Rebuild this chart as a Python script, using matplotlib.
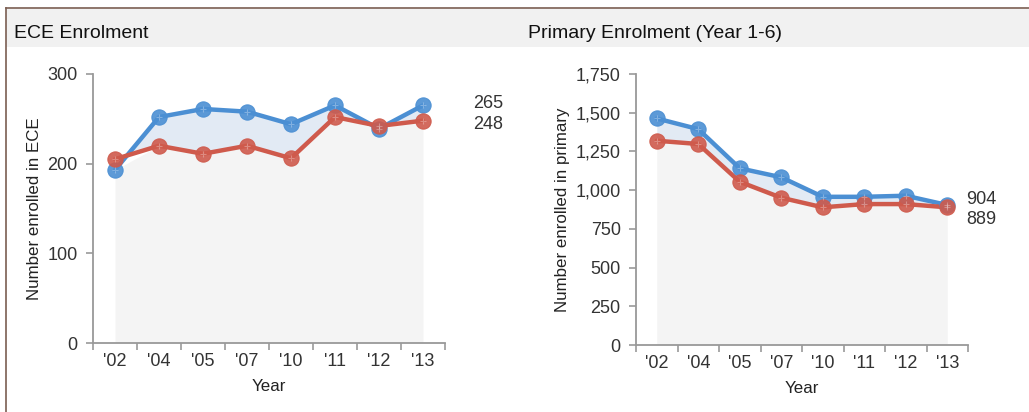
import numpy as np
import matplotlib
matplotlib.use("Agg")
import matplotlib.pyplot as plt
from matplotlib.patches import Rectangle
from matplotlib.lines import Line2D
from matplotlib.ticker import FuncFormatter
from matplotlib.transforms import blended_transform_factory

plt.rcParams["font.family"] = ["Liberation Sans", "DejaVu Sans"]

years = ["'02", "'04", "'05", "'07", "'10", "'11", "'12", "'13"]

ece_blue = [193, 252, 261, 258, 244, 265, 239, 265]
ece_red = [205, 220, 211, 220, 206, 252, 242, 248]

prim_blue = [1463, 1394, 1141, 1083, 957, 957, 964, 904]
prim_red = [1319, 1298, 1054, 951, 889, 910, 910, 889]

BLUE = "#4b8fd3"
RED = "#cf5a4c"
TXT = "#333333"
W, H = 1029, 412


def fig_box(x, y, w, h):
    # pixel box (top-left origin) -> figure fraction
    return [x / W, 1 - (y + h) / H, w / W, h / H]


def panel(ax, blue, red, ymax, yticks, ylabel, lab_x, lab_offsets):
    x = np.arange(len(years))
    b = np.array(blue, dtype=float)
    r = np.array(red, dtype=float)
    ax.fill_between(x, 0, np.minimum(b, r), color="#f4f4f4", lw=0, zorder=1)
    ax.fill_between(x, r, b, where=b >= r, interpolate=True,
                    color="#e2eaf4", lw=0, zorder=1)
    for vals, col in ((b, BLUE), (r, RED)):
        ax.plot(x, vals, color=col, lw=3.2, zorder=3, solid_capstyle="round")
        ax.plot(x, vals, ls="none", marker="o", ms=11, mfc=col, mec=col,
                mew=0.8, alpha=0.9, zorder=4)
        ax.plot(x, vals, ls="none", marker="+", ms=5, mec="white",
                mew=0.8, alpha=0.3, zorder=5)

    ax.set_xlim(-0.5, len(years) - 0.5)
    ax.set_ylim(0, ymax)
    ax.set_yticks(yticks)
    ax.yaxis.set_major_formatter(FuncFormatter(lambda v, p: f"{v:,.0f}"))
    ax.set_xticks(x)
    ax.set_xticklabels(years)
    ax.set_xticks(np.arange(-0.5, len(years)), minor=True)
    ax.tick_params(axis="x", which="major", length=0, pad=7,
                   labelsize=13, labelcolor=TXT)
    ax.tick_params(axis="x", which="minor", length=5, width=1.2,
                   color="#999999")
    ax.tick_params(axis="y", length=5, width=1.2, color="#999999",
                   labelsize=13, labelcolor=TXT, pad=6)
    for s in ("top", "right"):
        ax.spines[s].set_visible(False)
    for s in ("left", "bottom"):
        ax.spines[s].set_color("#999999")
        ax.spines[s].set_linewidth(1.3)
    ax.set_xlabel("Year", fontsize=12.2, color="#222222", labelpad=7)
    ax.set_ylabel(ylabel, fontsize=12.2, color="#222222", labelpad=4)

    tr = blended_transform_factory(ax.transAxes, ax.transData)
    for vals, dy in zip((b, r), lab_offsets):
        ax.annotate(f"{vals[-1]:.0f}", xy=(lab_x, vals[-1]), xycoords=tr,
                    xytext=(0, dy), textcoords="offset points",
                    ha="left", va="center", fontsize=13, color=TXT)


fig = plt.figure(figsize=(W / 100, H / 100), dpi=100)

# header band and frame
fig.patches.append(Rectangle((6 / W, 1 - 47 / H), 1 - 6 / W, 38 / H,
                             transform=fig.transFigure, color="#f1f1f1",
                             lw=0, zorder=0))
fig.lines.append(Line2D([6 / W, 1], [1 - 8 / H, 1 - 8 / H],
                        transform=fig.transFigure, color="#7a5e52", lw=1.2))
fig.lines.append(Line2D([6 / W, 6 / W], [0, 1 - 8 / H],
                        transform=fig.transFigure, color="#7a5e52", lw=1.2))

fig.text(14 / W, 1 - 34 / H, "ECE Enrolment", fontsize=14,
         color="#111111", va="center", ha="left")
fig.text(528 / W, 1 - 34 / H, "Primary Enrolment (Year 1-6)", fontsize=14,
         color="#111111", va="center", ha="left")

ax1 = fig.add_axes(fig_box(93, 74, 352, 269))
panel(ax1, ece_blue, ece_red, 300, [0, 100, 200, 300],
      "Number enrolled in ECE", 1.08, (1.0, -2.5))

ax2 = fig.add_axes(fig_box(636, 74, 332, 271))
panel(ax2, prim_blue, prim_red, 1750, [0, 250, 500, 750, 1000, 1250, 1500, 1750],
      "Number enrolled in primary", 0.994, (4, -9))

fig.savefig("out.png", dpi=100)
